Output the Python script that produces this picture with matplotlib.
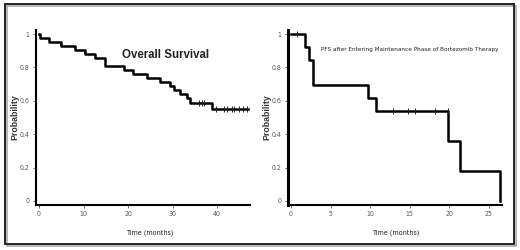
import numpy as np
import matplotlib
matplotlib.use('Agg')
import matplotlib.pyplot as plt
from matplotlib import font_manager
from matplotlib.patches import Rectangle

# overall survival (Kaplan-Meier steps), months / probability
os_t = [0, 0.2, 2.3, 4.9, 8.1, 10.3, 12.6, 14.8, 19.1, 21.2, 24.2, 27.2,
        29.4, 30.3, 31.7, 33.2, 33.9, 38.8, 47.0]
os_p = [1.0, 0.978, 0.951, 0.928, 0.904, 0.879, 0.857, 0.807, 0.782, 0.760,
        0.736, 0.712, 0.690, 0.666, 0.642, 0.614, 0.588, 0.549, 0.549]
os_cens = [36.0, 36.6, 37.1, 39.8, 41.6, 42.2, 43.3, 43.7, 45.0, 45.8, 46.7]

# PFS after entering maintenance phase
pfs_t = [0, 1.8, 2.3, 2.75, 9.7, 10.75, 19.9, 21.4, 26.4]
pfs_p = [1.0, 0.923, 0.846, 0.692, 0.615, 0.538, 0.359, 0.179, 0.0]
pfs_cens = [0.8, 12.9, 14.8, 15.7, 18.2, 19.85]

y_ticks = [0, 0.2, 0.4, 0.6, 0.8, 1.0]
y_labels = ['0', '0.2', '0.4', '0.6', '0.8', '1']

plt.rcParams['font.family'] = ['Liberation Sans', 'DejaVu Sans']

# a narrow face for the small texts, if one is installed
installed = {f.name for f in font_manager.fontManager.ttflist}
if 'Liberation Sans Narrow' in installed:
    narrow = dict(family='Liberation Sans Narrow')
else:
    narrow = dict(family='DejaVu Sans', fontstretch='condensed')


def step_value(t, p, x):
    """Survival probability of a step curve at time x."""
    k = np.searchsorted(t, x, side='right') - 1
    return np.asarray(p)[k]


def km_panel(ax, t, p, cens, xticks, xlim, spine_w):
    ax.plot(t, p, drawstyle='steps-post', color='black', lw=1.8)
    ax.plot(cens, step_value(t, p, cens), ls='none', marker='|',
            ms=4.5, mew=0.7, color='#222222')
    ax.set_xlim(*xlim)
    ax.set_ylim(-0.024, 1.024)
    ax.set_xticks(xticks)
    ax.set_yticks(y_ticks)
    ax.set_yticklabels(y_labels)
    for s in ('top', 'right'):
        ax.spines[s].set_visible(False)
    ax.spines['left'].set_linewidth(spine_w)
    ax.spines['bottom'].set_linewidth(1.5)
    ax.tick_params(length=2.5, width=0.6, pad=2, labelsize=5,
                   colors='#555555')
    for lab in ax.get_xticklabels() + ax.get_yticklabels():
        lab.set(**narrow)


def fit_width(txt, width_px, renderer):
    """Shrink or grow a text so that it is width_px wide."""
    w = txt.get_window_extent(renderer).width
    txt.set_fontsize(txt.get_fontsize() * width_px / w)


fig = plt.figure(figsize=(5.2, 2.5), dpi=100)

ax1 = fig.add_axes([36 / 520, 1 - 205 / 250, 214 / 520, 175 / 250])
km_panel(ax1, os_t, os_p, os_cens, [0, 10, 20, 30, 40], (-0.67, 47.4), 1.5)
ax1.text(0.40, 0.84, 'Overall Survival', transform=ax1.transAxes,
         fontsize=8.3, fontweight='bold', color='#222222')

ax2 = fig.add_axes([288 / 520, 1 - 205 / 250, 214 / 520, 175 / 250])
km_panel(ax2, pfs_t, pfs_p, pfs_cens, [0, 5, 10, 15, 20, 25], (-0.38, 26.7), 2.2)
pfs_title = fig.text(321 / 520, 1 - 50 / 250,
                     'PFS after Entering Maintenance Phase of Bortezomib Therapy',
                     ha='left', va='center', fontsize=6, color='#222222', **narrow)

for xc in (15 / 520, 266.5 / 520):
    fig.text(xc, 1 - 117 / 250, 'Probability', rotation=90, ha='center',
             va='center', fontsize=6.3, fontweight='bold', color='#333333')
time_labels = [fig.text(xc, 1 - 233 / 250, 'Time (months)', ha='center',
                        va='center', fontsize=6, color='#222222', **narrow)
               for xc in (150 / 520, 396 / 520)]

renderer = fig.canvas.get_renderer()
fit_width(pfs_title, 176, renderer)
for lab in time_labels:
    fit_width(lab, 48, renderer)

# outer frame with a light shadow
fig.add_artist(Rectangle((6.5 / 520, 1 - 245.5 / 250), 509 / 520, 240 / 250,
                         transform=fig.transFigure, fill=False,
                         edgecolor='#aaaaaa', lw=1.2))
fig.add_artist(Rectangle((5 / 520, 1 - 244 / 250), 509 / 520, 240 / 250,
                         transform=fig.transFigure, fill=False,
                         edgecolor='#222222', lw=1.4))

fig.savefig('out.png', dpi=100)
